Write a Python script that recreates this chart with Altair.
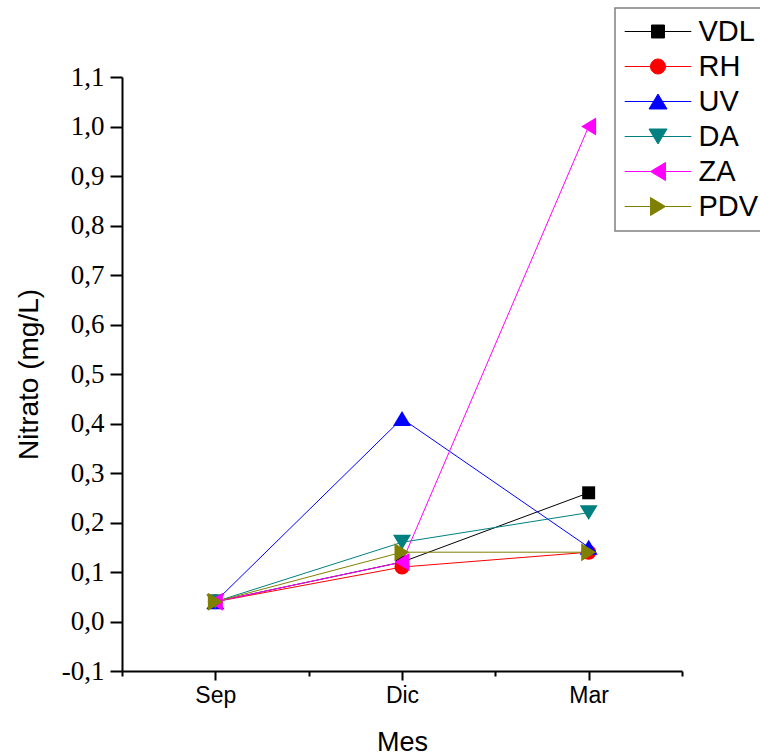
import altair as alt
import pandas as pd

months = ["Sep", "Dic", "Mar"]
series = ["VDL", "RH", "UV", "DA", "ZA", "PDV"]
colors = ["#000000", "#FF0000", "#0000FF", "#008080", "#FF00FF", "#808000"]

vdl = [0.04, 0.12, 0.26]
rh = [0.04, 0.11, 0.14]
uv = [0.04, 0.41, 0.15]
da = [0.04, 0.16, 0.22]
za = [0.04, 0.12, 1.00]
pdv = [0.04, 0.14, 0.14]
values = [vdl, rh, uv, da, za, pdv]

# marker outlines (unit box) and legend line segment
markers = [
    "M-0.72,-0.72H0.72V0.72H-0.72Z",
    "M-0.83,0A0.83,0.83 0 1,0 0.83,0A0.83,0.83 0 1,0 -0.83,0Z",
    "M0,-0.83L1,0.83H-1Z",
    "M-1,-0.83H1L0,0.83Z",
    "M-0.83,0L0.83,-1V1Z",
    "M0.83,0L-0.83,-1V1Z",
]
legend_line = "M-3.7,0H3.7 "
legend_shapes = [legend_line + m for m in markers]

rows = []
for s, vals in zip(series, values):
    for i, (m, v) in enumerate(zip(months, vals)):
        rows.append({"series": s, "month": m, "pos": i + 1, "value": v})
df = pd.DataFrame(rows)

x_label_expr = " : ".join(
    [f"datum.value == {i + 1} ? '{m}'" for i, m in enumerate(months)] + ["''"]
)
x_ticks = [0.5, 1, 1.5, 2, 2.5, 3, 3.5]
y_ticks = [round(-0.1 + 0.05 * k, 2) for k in range(25)]

y_label_expr = (
    "abs(round(datum.value*100)) % 10 == 0 ? "
    "replace(replace(format(datum.value, '.1f'), '.', ','), '\u2212', '-') : ''"
)

x_enc = alt.X(
    "pos:Q",
    scale=alt.Scale(domain=[0.5, 3.5], nice=False, zero=False),
    axis=alt.Axis(
        title="Mes",
        values=x_ticks,
        labelExpr=x_label_expr,
        tickSize={"condition": {"test": "datum.value % 1 != 0", "value": 5}, "value": 9},
        labelFont="Liberation Sans",
        labelFontSize=23,
        labelPadding=4,
        titleFont="Liberation Sans",
        titleFontSize=27,
        titleFontWeight="normal",
        titlePadding=22,
    ),
)
y_enc = alt.Y(
    "value:Q",
    scale=alt.Scale(domain=[-0.1, 1.1], nice=False, zero=False),
    axis=alt.Axis(
        title="Nitrato (mg/L)",
        values=y_ticks,
        labelExpr=y_label_expr,
        tickSize={
            "condition": {"test": "abs(round(datum.value*100)) % 10 != 0", "value": 5},
            "value": 12,
        },
        labelFont="Liberation Serif",
        labelFontSize=27,
        labelPadding=6,
        titleFont="Liberation Sans",
        titleFontSize=28,
        titleFontWeight="normal",
        titlePadding=18,
    ),
)

base = alt.Chart(df)

lines = base.mark_line(strokeWidth=1).encode(
    x=x_enc,
    y=y_enc,
    color=alt.Color("series:N", scale=alt.Scale(domain=series, range=colors), legend=None),
    detail="series:N",
)

points = base.mark_point(filled=True, opacity=1, size=324, strokeWidth=0).encode(
    x="pos:Q",
    y="value:Q",
    color=alt.Color("series:N", scale=alt.Scale(domain=series, range=colors), legend=None),
    shape=alt.Shape("series:N", scale=alt.Scale(domain=series, range=markers), legend=None),
)

legend_layer = (
    base.transform_filter("datum.value > 5")
    .mark_point(filled=True, opacity=1, size=324, strokeWidth=1)
    .encode(
        x="pos:Q",
        y="value:Q",
        color=alt.Color(
            "series:N",
            scale=alt.Scale(domain=series, range=colors),
            legend=alt.Legend(title=None),
        ),
        stroke=alt.Stroke(
            "series:N",
            scale=alt.Scale(domain=series, range=colors),
            legend=alt.Legend(title=None),
        ),
        shape=alt.Shape(
            "series:N",
            scale=alt.Scale(domain=series, range=legend_shapes),
            legend=alt.Legend(title=None),
        ),
    )
)

chart = (
    alt.layer(lines, points, legend_layer)
    .resolve_scale(color="independent", shape="independent", stroke="independent")
    .properties(
        width=560,
        height=594,
        autosize=alt.AutoSizeParams(type="none"),
        padding={"left": 122, "top": 77, "right": 78, "bottom": 85},
        background="white",
    )
    .configure_view(stroke=None)
    .configure_axis(
        grid=False,
        domainColor="black",
        domainWidth=2,
        tickColor="black",
        tickWidth=2,
        labelColor="black",
        titleColor="black",
    )
    .configure_legend(
        orient="none",
        legendX=493,
        legendY=-69,
        padding=9,
        strokeColor="#808080",
        strokeWidth=1.5,
        fillColor="white",
        labelFont="Liberation Sans",
        labelFontSize=29,
        labelColor="black",
        symbolSize=324,
        symbolStrokeWidth=1,
        symbolOffset=19.5,
        labelOffset=26,
        rowPadding=5,
    )
)

chart.save("out.html", embed_options={"renderer": "svg", "actions": False})
